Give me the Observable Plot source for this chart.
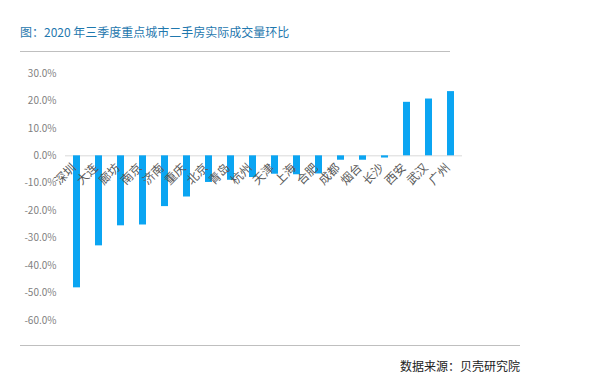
<!DOCTYPE html>
<html><head><meta charset="utf-8">
<script src="https://cdn.jsdelivr.net/npm/d3@7"></script>
<script src="https://cdn.jsdelivr.net/npm/@observablehq/plot@0.6"></script>
<style>
body{margin:0;background:#fff;font-family:"Noto Sans CJK SC",sans-serif;}
#wrap{position:relative;width:605px;height:391px;overflow:hidden;}
#title{position:absolute;left:20px;top:23px;font-size:12px;color:#1f78ae;white-space:nowrap;}
.hl{position:absolute;height:1px;background:#bfbfbf;}
#cap{position:absolute;right:85px;top:357px;font-size:12px;color:#222;white-space:nowrap;}
#chart{position:absolute;left:0;top:60px;}
</style></head>
<body><div id="wrap">
<div id="title">图：2020 年三季度重点城市二手房实际成交量环比</div>
<div class="hl" style="left:20px;top:51px;width:430px"></div>
<div id="chart"></div>
<div class="hl" style="left:20px;top:345px;width:500px"></div>
<div id="cap">数据来源：贝壳研究院</div>
</div>
<script>
const cities = ["深圳","大连","廊坊","南京","济南","重庆","北京","青岛","杭州","天津","上海","合肥","成都","烟台","长沙","西安","武汉","广州"];
const changes = [-48.1,-32.8,-25.5,-25.2,-18.5,-15.0,-9.7,-8.9,-7.9,-6.7,-6.9,-6.6,-1.6,-1.6,-0.8,19.5,20.7,23.4];
const yTicks = [30,20,10,0,-10,-20,-30,-40,-50,-60];
const data = cities.map((c,i)=>({city:c, value:changes[i]}));
const chart = Plot.plot({
  width:605, height:275,
  marginLeft:65, marginRight:143, marginTop:13, marginBottom:15,
  style:{fontFamily:"'Noto Sans CJK SC', sans-serif", background:"transparent"},
  x:{domain:cities, paddingInner:0.69, paddingOuter:0.34, axis:null},
  y:{domain:[-60,30], ticks:yTicks, tickFormat:d=>d.toFixed(1)+"%", label:null, tickSize:0, tickPadding:9},
  marks:[
    Plot.axisY({ticks:yTicks, tickFormat:d=>d.toFixed(1)+"%", tickSize:0, tickPadding:9, label:null, fill:"#7f7f7f", fontSize:10}),
    Plot.ruleY([0],{stroke:"#d9d9d9"}),
    Plot.barY(data,{x:"city", y:"value", fill:"#0ba5f2"}),
    Plot.text(data,{x:"city", y:()=>0, text:"city", rotate:-45, textAnchor:"end", dx:-3, dy:10, fill:"#595959", fontSize:12})
  ]
});
document.getElementById("chart").appendChild(chart);
</script>
</body></html>
